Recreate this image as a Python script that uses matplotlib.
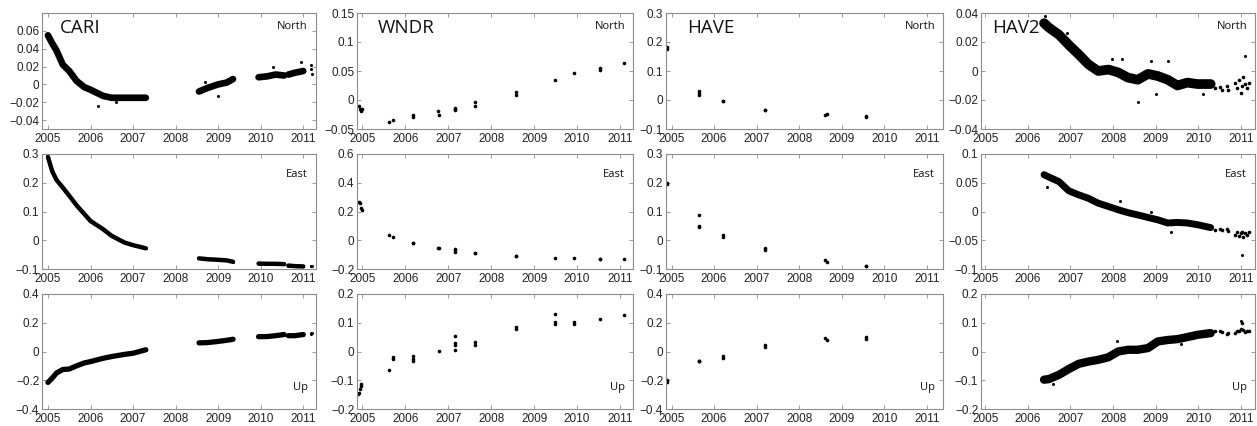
import matplotlib
matplotlib.use("Agg")
import matplotlib.pyplot as plt
from matplotlib.ticker import FuncFormatter

plt.rcParams["font.family"] = ["Liberation Sans", "DejaVu Sans"]

# ---------------- data ----------------
# CARI: continuous segments, shared time axis for N/E/U
cari_t = [
    [2005.0, 2005.1, 2005.2, 2005.35, 2005.5, 2005.67, 2005.85, 2006.0, 2006.3, 2006.5, 2006.8, 2007.0, 2007.3],
    [2008.55, 2008.75, 2009.0, 2009.2, 2009.35],
    [2009.95, 2010.15, 2010.35, 2010.55],
    [2010.65, 2010.8, 2011.0],
]
cari_n = [
    [0.055, 0.046, 0.038, 0.022, 0.015, 0.004, -0.003, -0.006, -0.013, -0.015, -0.015, -0.015, -0.015],
    [-0.008, -0.004, 0.0, 0.002, 0.006],
    [0.008, 0.009, 0.011, 0.010],
    [0.011, 0.013, 0.015],
]
cari_e = [
    [0.29, 0.24, 0.21, 0.183, 0.155, 0.122, 0.092, 0.067, 0.038, 0.015, -0.008, -0.017, -0.028],
    [-0.063, -0.066, -0.068, -0.070, -0.075],
    [-0.081, -0.082, -0.082, -0.083],
    [-0.088, -0.090, -0.091],
]
cari_u = [
    [-0.215, -0.185, -0.15, -0.125, -0.122, -0.10, -0.08, -0.07, -0.047, -0.035, -0.02, -0.012, 0.012],
    [0.060, 0.062, 0.070, 0.078, 0.085],
    [0.103, 0.104, 0.110, 0.118],
    [0.110, 0.110, 0.118],
]
cari_pts_t = [2011.18, 2011.18, 2011.2]
cari_pts_n = [0.022, 0.017, 0.012]
cari_pts_e = [-0.088, -0.088, -0.089]
cari_pts_u = [0.13, 0.125, 0.132]
cari_out_n_t = [2005.55, 2006.18, 2008.99, 2010.29, 2010.95, 2005.3, 2006.6, 2008.7]
cari_out_n_v = [0.014, -0.024, -0.013, 0.020, 0.025, 0.030, -0.020, 0.003]

# WNDR: campaign measurements
wndr_t = [2004.93, 2004.96, 2004.98, 2005.0, 2005.63, 2005.71, 2006.18, 2006.19,
          2006.77, 2006.78, 2007.17, 2007.17, 2007.17, 2007.62, 2007.62,
          2008.58, 2008.58, 2009.49, 2009.93, 2010.53, 2010.53, 2011.08]
wndr_n = [-0.010, -0.016, -0.019, -0.015, -0.038, -0.034, -0.025, -0.029,
          -0.019, -0.025, -0.013, -0.016, -0.018, -0.003, -0.010,
          0.013, 0.009, 0.034, 0.046, 0.055, 0.052, 0.064]
wndr_e = [0.268, 0.260, 0.225, 0.210, 0.035, 0.026, -0.020, -0.020,
          -0.055, -0.055, -0.062, -0.070, -0.080, -0.090, -0.090,
          -0.107, -0.107, -0.123, -0.123, -0.130, -0.130, -0.130]
wndr_up_t = [2004.91, 2004.93, 2004.95, 2004.97, 2004.98, 2005.63, 2005.71, 2005.71,
             2006.18, 2006.18, 2006.18, 2006.78, 2007.17, 2007.17, 2007.17, 2007.17,
             2007.62, 2007.62, 2008.58, 2008.58, 2009.49, 2009.49, 2009.49,
             2009.93, 2009.93, 2010.53, 2011.08]
wndr_u = [-0.148, -0.143, -0.131, -0.120, -0.112, -0.065, -0.020, -0.025,
          -0.017, -0.025, -0.032, 0.002, 0.054, 0.029, 0.023, 0.006,
          0.034, 0.023, 0.085, 0.077, 0.129, 0.103, 0.097,
          0.103, 0.097, 0.112, 0.126]

# HAVE: campaign measurements
have_t = [2004.9, 2004.9, 2005.64, 2005.64, 2005.64, 2006.22, 2006.22,
          2007.2, 2007.2, 2008.6, 2008.66, 2009.56, 2009.56]
have_n = [0.182, 0.176, 0.032, 0.018, 0.025, -0.005, -0.005,
          -0.034, -0.034, -0.051, -0.048, -0.054, -0.059]
have_e = [0.199, 0.195, 0.089, 0.049, 0.046, 0.018, 0.013,
          -0.027, -0.033, -0.067, -0.074, -0.088, -0.088]
have_u = [-0.195, -0.210, -0.069, -0.069, -0.069, -0.034, -0.046,
          0.046, 0.034, 0.091, 0.080, 0.098, 0.089]

# HAV2: continuous band then sparse tail
hav2_t = [2006.38, 2006.49, 2006.73, 2006.96, 2007.19, 2007.42, 2007.65, 2007.89, 2008.12,
          2008.35, 2008.58, 2008.82, 2009.05, 2009.28, 2009.51, 2009.74, 2009.98, 2010.29]
hav2_n = [0.033, 0.030, 0.025, 0.018, 0.0115, 0.0046, 0.0, 0.001, -0.001,
          -0.0046, -0.006, -0.002, -0.0035, -0.006, -0.010, -0.008, -0.009, -0.009]
hav2_e = [0.064, 0.060, 0.052, 0.036, 0.029, 0.023, 0.0145, 0.0087, 0.003,
          -0.002, -0.006, -0.0104, -0.0145, -0.020, -0.019, -0.020, -0.023, -0.028]
hav2_u = [-0.098, -0.096, -0.081, -0.061, -0.043, -0.035, -0.029, -0.020, 0.0,
          0.006, 0.006, 0.012, 0.035, 0.040, 0.043, 0.050, 0.058, 0.064]
hav2_tail_t = [2010.4, 2010.52, 2010.55, 2010.67, 2010.7, 2010.85, 2010.9, 2010.95,
               2011.0, 2011.02, 2011.05, 2011.1, 2011.15, 2011.2]
hav2_tail_n = [-0.012, -0.011, -0.013, -0.010, -0.013, -0.008, -0.012, -0.006,
               -0.015, -0.010, -0.004, -0.009, -0.012, -0.008]
hav2_tail_e = [-0.032, -0.030, -0.033, -0.031, -0.034, -0.040, -0.036, -0.042,
               -0.038, -0.035, -0.045, -0.037, -0.040, -0.036]
hav2_tail_u = [0.072, 0.070, 0.068, 0.062, 0.066, 0.065, 0.072, 0.070,
               0.080, 0.098, 0.075, 0.068, 0.072, 0.070]
hav2_out_n_t = [2006.4, 2006.92, 2007.97, 2008.2, 2008.58, 2008.9, 2009.3, 2011.1, 2009.0, 2010.1]
hav2_out_n_v = [0.038, 0.026, 0.008, 0.008, -0.0215, 0.007, 0.007, 0.0105, -0.016, -0.016]
hav2_out_e_t = [2006.45, 2008.16, 2009.36, 2011.02, 2007.1, 2008.9]
hav2_out_e_v = [0.042, 0.0185, -0.035, -0.075, 0.034, 0.0]
hav2_out_u_t = [2008.09, 2011.0, 2006.6, 2009.6]
hav2_out_u_v = [0.035, 0.105, -0.112, 0.025]

stations = ["CARI", "WNDR", "HAVE", "HAV2"]
components = ["North", "East", "Up"]
years = [2005, 2006, 2007, 2008, 2009, 2010, 2011]

ylims = {
    "CARI": [(-0.05, 0.08), (-0.1, 0.3), (-0.4, 0.4)],
    "WNDR": [(-0.05, 0.15), (-0.2, 0.6), (-0.2, 0.2)],
    "HAVE": [(-0.1, 0.3), (-0.1, 0.3), (-0.4, 0.4)],
    "HAV2": [(-0.04, 0.04), (-0.1, 0.1), (-0.2, 0.2)],
}
yticks = {
    "CARI": [[-0.04, -0.02, 0, 0.02, 0.04, 0.06], [-0.1, 0, 0.1, 0.2, 0.3], [-0.4, -0.2, 0, 0.2, 0.4]],
    "WNDR": [[-0.05, 0, 0.05, 0.1, 0.15], [-0.2, 0, 0.2, 0.4, 0.6], [-0.2, -0.1, 0, 0.1, 0.2]],
    "HAVE": [[-0.1, 0, 0.1, 0.2, 0.3], [-0.1, 0, 0.1, 0.2, 0.3], [-0.4, -0.2, 0, 0.2, 0.4]],
    "HAV2": [[-0.04, -0.02, 0, 0.02, 0.04], [-0.1, -0.05, 0, 0.05, 0.1], [-0.2, -0.1, 0, 0.1, 0.2]],
}
xlims = [(2004.86, 2011.3), (2004.88, 2011.3), (2004.87, 2011.38), (2004.9, 2011.33)]

# ---------------- layout (pixels) ----------------
W, H = 1257, 426
col_px = [(42, 316), (357, 633), (666, 943), (981, 1255)]
row_px = [(13, 129), (154, 269), (294, 409)]
name_dx = [18, 21, 21, 11]
frame_col = "#8c8c8c"


def fmt(v, pos):
    s = "%g" % round(v, 6)
    if s == "-0":
        s = "0"
    return s.replace("-", "\u2212")


fig = plt.figure(figsize=(W / 100, H / 100), dpi=100)

axes = {}
for c, st in enumerate(stations):
    for r, comp in enumerate(components):
        x0, x1 = col_px[c]
        y0, y1 = row_px[r]
        ax = fig.add_axes([x0 / W, 1 - y1 / H, (x1 - x0) / W, (y1 - y0) / H])
        ax.set_xlim(*xlims[c])
        ax.set_ylim(*ylims[st][r])
        ax.set_xticks(years)
        ax.set_yticks(yticks[st][r])
        ax.yaxis.set_major_formatter(FuncFormatter(fmt))
        ax.tick_params(direction="in", top=True, right=True, length=3, width=0.6,
                       color=frame_col, labelsize=8.5, labelcolor="#222222", pad=2)
        ax.tick_params(axis="x", pad=3)
        for sp in ax.spines.values():
            sp.set_color(frame_col)
            sp.set_linewidth(0.8)
        ax.text(1 - 8 / (x1 - x0), [0.88, 0.82, 0.19][r], comp, transform=ax.transAxes,
                ha="right", va="center", fontsize=8, family=["Open Sans", "DejaVu Sans"],
                color="#111111")
        if r == 0:
            ax.text(name_dx[c] / (x1 - x0), 0.87, st, transform=ax.transAxes,
                    ha="left", va="center", fontsize=13.5,
                    family=["Open Sans", "DejaVu Sans"], color="#111111")
        axes[(st, r)] = ax

dot = dict(ls="none", marker="o", color="black", ms=2.6, mew=0)
small = dict(ls="none", marker="o", color="black", ms=2.2, mew=0)

# CARI
for r, (vals, pts, lw) in enumerate([(cari_n, cari_pts_n, 4.8), (cari_e, cari_pts_e, 3.2),
                                     (cari_u, cari_pts_u, 3.8)]):
    ax = axes[("CARI", r)]
    for t, v in zip(cari_t, vals):
        ax.plot(t, v, color="black", lw=lw, solid_capstyle="round", solid_joinstyle="round")
        ax.plot(t, v, **small)
    ax.plot(cari_pts_t, pts, **small)
axes[("CARI", 0)].plot(cari_out_n_t, cari_out_n_v, **small)

# WNDR
axes[("WNDR", 0)].plot(wndr_t, wndr_n, **dot)
axes[("WNDR", 1)].plot(wndr_t, wndr_e, **dot)
axes[("WNDR", 2)].plot(wndr_up_t, wndr_u, **dot)

# HAVE
axes[("HAVE", 0)].plot(have_t, have_n, **dot)
axes[("HAVE", 1)].plot(have_t, have_e, **dot)
axes[("HAVE", 2)].plot(have_t, have_u, **dot)

# HAV2
for r, (vals, tail, ot, ov, lw) in enumerate([
        (hav2_n, hav2_tail_n, hav2_out_n_t, hav2_out_n_v, 7.0),
        (hav2_e, hav2_tail_e, hav2_out_e_t, hav2_out_e_v, 5.0),
        (hav2_u, hav2_tail_u, hav2_out_u_t, hav2_out_u_v, 6.0)]):
    ax = axes[("HAV2", r)]
    ax.plot(hav2_t, vals, color="black", lw=lw, solid_capstyle="round", solid_joinstyle="round")
    ax.plot(hav2_tail_t, tail, **dot)
    ax.plot(ot, ov, **small)

fig.savefig("out.png", dpi=100, facecolor="white")
